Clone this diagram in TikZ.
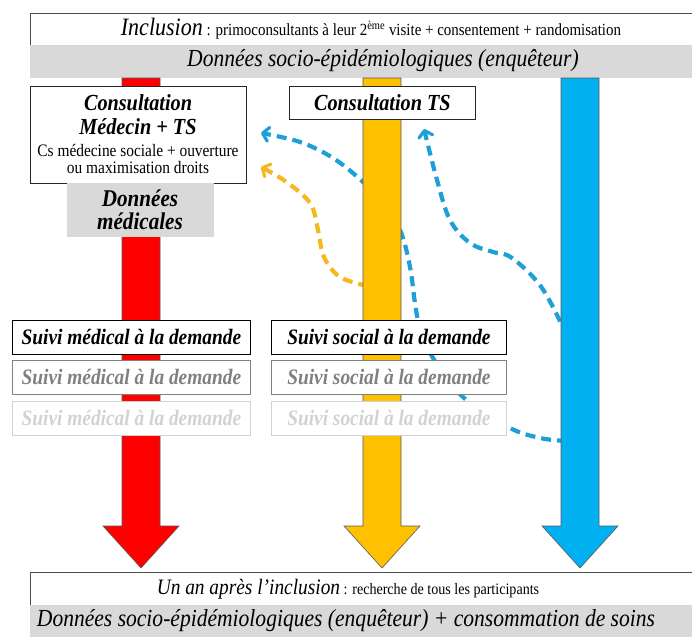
\documentclass[tikz,border=0pt]{standalone}
\usepackage{fontspec}
\setmainfont{Liberation Serif}[FakeStretch=0.88]
\usetikzlibrary{arrows.meta}
\definecolor{cred}{RGB}{255,0,0}
\definecolor{corange}{RGB}{255,192,0}
\definecolor{cblue}{RGB}{0,176,240}
\definecolor{dblue}{RGB}{30,160,215}
\definecolor{dorange}{RGB}{245,185,30}
\definecolor{band}{RGB}{217,217,217}
\definecolor{grayA}{RGB}{128,128,128}
\definecolor{grayB}{RGB}{210,210,210}
\tikzset{
  bigarrow/.style={draw=black!65,line width=0.6pt},
  whitebox/.style={draw=black!85,fill=white,line width=0.8pt,inner sep=0pt},
  bandbox/.style={fill=band,draw=none,inner sep=0pt},
  dashline/.style={line width=4.2pt,dash pattern=on 10pt off 6pt,
     -{Straight Barb[length=6pt,width=14pt,line width=3.2pt,round]}},
  suivi/.style={draw=#1,fill=white,line width=0.8pt,minimum width=238pt,minimum height=34pt,inner sep=0pt,
     font=\fontsize{22}{22}\selectfont\bfseries\itshape,text=#1},
}
\begin{document}
\begin{tikzpicture}[x=1pt,y=-1pt]
\useasboundingbox (0,0) rectangle (692,637);
% top header
\fill[white] (30,13) rectangle (692,45);
\draw[black!70,line width=0.8pt] (30,45) -- (30,13) -- (692,13);
\node[bandbox,minimum width=662pt,minimum height=33pt,anchor=north west] (band1) at (30,45) {};
\node (inc) at (371,29) {\fontsize{25}{25}\selectfont\itshape Inclusion\fontsize{17}{17}\selectfont\upshape\ : primoconsultants à leur 2\textsuperscript{ème} visite + consentement + randomisation};
\node (dse) at (383,61) {\fontsize{24.5}{24.5}\selectfont\itshape Données socio-épidémiologiques (enquêteur)};
% named points of the dashed curves
\coordinate (b1s) at (567,441);
\coordinate (b1e) at (261,133);
\coordinate (b2s) at (567,336);
\coordinate (b2e) at (424,129);
\coordinate (o1s) at (368,286);
\coordinate (o1e) at (261,167);
\draw[dblue,dashline] plot[smooth,tension=0.6] coordinates {(b1s) (540,438) (508,427) (463,397) (433,358) (418,320) (410,267) (400,230) (382,202) (362,181) (333,158) (300,142) (b1e)};
\draw[dblue,dashline] plot[smooth,tension=0.6] coordinates {(b2s) (542,288) (512,258) (493,252) (470,243) (450,220) (437,180) (b2e)};
\draw[dorange,dashline] plot[smooth,tension=0.6] coordinates {(o1s) (340,277) (324,257) (318,230) (310,203) (285,181) (o1e)};
% big arrows
\foreach \c/\x/\n in {cred/141/r,corange/382/o,cblue/580/b}{
  \draw[bigarrow,fill=\c] (\x-19,78) -- (\x+19,78) -- (\x+19,526) -- (\x+38,526) -- (\x,568) -- (\x-38,526) -- (\x-19,526) -- cycle;
  \coordinate (tip\n) at (\x,568);
}
% consultation boxes
\node[whitebox,minimum width=216pt,minimum height=97pt,anchor=north west] (cmed) at (30,86) {};
\node (cmt1) at (138,103) {\fontsize{23}{23}\selectfont\bfseries\itshape Consultation};
\node (cmt2) at (138,127) {\fontsize{23}{23}\selectfont\bfseries\itshape Médecin + TS};
\node (cmt3) at (138,150) {\fontsize{17.5}{17.5}\selectfont Cs médecine sociale + ouverture};
\node (cmt4) at (138,168) {\fontsize{17.5}{17.5}\selectfont ou maximisation droits};
\node[bandbox,minimum width=147pt,minimum height=54pt,anchor=north west] (dmed) at (67,183) {};
\node (dmt1) at (140,198) {\fontsize{24}{24}\selectfont\bfseries\itshape Données};
\node (dmt2) at (140,221) {\fontsize{24}{24}\selectfont\bfseries\itshape médicales};
\node[whitebox,minimum width=186pt,minimum height=33pt,anchor=north west,
  font=\fontsize{23}{23}\selectfont\bfseries\itshape] (cts) at (289,86) {Consultation TS};
% suivi boxes
\node[suivi=black,anchor=north west] (sm1) at (12,320) {Suivi médical à la demande};
\node[suivi=grayA,anchor=north west] (sm2) at (12,360) {Suivi médical à la demande};
\node[suivi=grayB,anchor=north west] (sm3) at (12,401) {Suivi médical à la demande};
\node[suivi=black,anchor=north west,minimum width=235pt] (ss1) at (271,320) {Suivi social à la demande};
\node[suivi=grayA,anchor=north west,minimum width=235pt] (ss2) at (271,360) {Suivi social à la demande};
\node[suivi=grayB,anchor=north west,minimum width=235pt] (ss3) at (271,401) {Suivi social à la demande};
% bottom
\fill[white] (30,572) rectangle (692,605);
\draw[black!70,line width=0.8pt] (30,605) -- (30,572) -- (692,572);
\node[bandbox,minimum width=662pt,minimum height=32pt,anchor=north west] (band2) at (30,605) {};
\node (un) at (348,589) {\fontsize{22}{22}\selectfont\itshape Un an après l’inclusion\fontsize{16}{16}\selectfont\upshape\ : recherche de tous les participants};
\node (dse2) at (346,621) {\fontsize{24.5}{24.5}\selectfont\itshape Données socio-épidémiologiques (enquêteur) + consommation de soins};
\end{tikzpicture}
\end{document}
